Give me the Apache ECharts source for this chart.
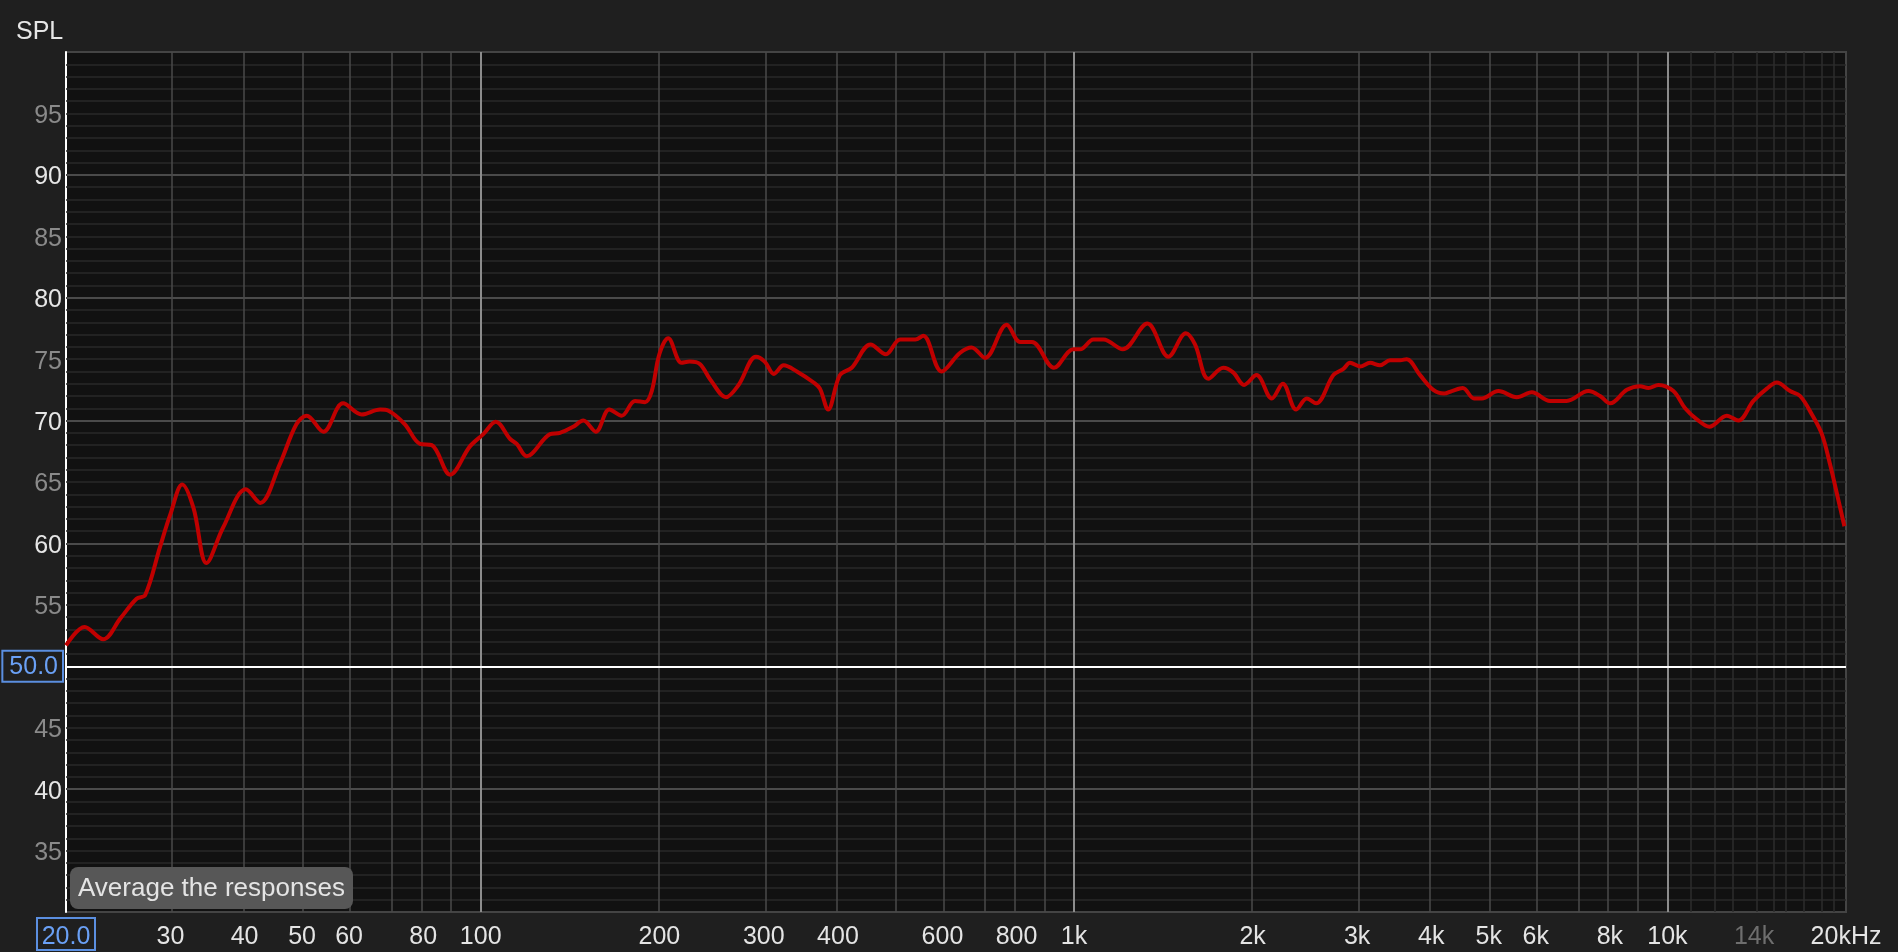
<!DOCTYPE html>
<html><head><meta charset="utf-8">
<script src="https://cdn.jsdelivr.net/npm/echarts@6/dist/echarts.min.js"></script>
<style>html,body{margin:0;padding:0;background:#1f1f1f;}#c{width:1898px;height:952px;}</style>
</head><body><div id="c"></div>
<script>
// Measured response (Hz, dB SPL)
const freqHz = [20,21.5,23.1,24.7,26.3,27.2,28.8,30,31.4,32.8,34.5,36.8,40.2,42.5,45.8,48.9,50.9,54.3,58.6,63.0,67.7,69.9,74.5,79.0,82.7,88.8,95.9,101.0,106.0,112.1,115.0,119.5,130.9,136.0,143.2,148.9,156.3,164.7,172.8,182.0,189.2,194.2,200,207,218,225,234,244,259,272,291,301,312,324,341,364,373,385,403,422,454,482,509,540,557,598,642,672,708,770,811,849,925,997,1024,1078,1121,1208,1329,1442,1543,1599,1684,1785,1856,1934,2030,2154,2248,2368,2468,2558,2736,2844,2918,3034,3154,3278,3408,3544,3636,3830,4032,4204,4332,4520,4722,4866,5190,5574,5908,6342,6766,7360,7702,8008,8544,8996,9290,9658,10236,10712,11210,11772,12590,13170,13962,14708,15290,16100,16738,17520,18212,18808,19424,19876];
const splDb = [51.7,53.2,52.2,53.9,55.5,55.8,59.7,62.4,64.8,62.9,58.4,61.3,64.4,63.3,66.4,69.7,70.4,69.1,71.4,70.5,70.9,70.8,69.7,68.1,68.0,65.6,67.9,68.9,69.9,68.5,68.1,67.1,68.9,69.0,69.5,70.0,69.1,70.9,70.4,71.6,71.5,72.4,75.4,76.7,74.7,74.8,74.6,73.3,71.9,72.9,75.2,74.8,73.8,74.5,74.0,73.1,72.6,70.9,73.7,74.3,76.2,75.4,76.6,76.6,76.9,74.0,75.5,75.95,75.1,77.8,76.4,76.4,74.3,75.8,75.8,76.6,76.6,75.8,77.9,75.2,77.1,76.2,73.4,74.3,73.9,72.9,73.7,71.8,73.0,70.9,71.8,71.4,73.7,74.2,74.7,74.4,74.7,74.5,74.9,74.9,75.0,73.7,72.5,72.2,72.4,72.65,71.8,71.8,72.4,71.9,72.3,71.6,71.6,72.4,72.0,71.4,72.5,72.8,72.65,72.9,72.4,71.0,70.1,69.5,70.4,70.0,71.6,72.6,73.1,72.4,72.0,70.5,68.9,66.4,63.5,61.4];

// Axis ticks
const xTickFreqs = [20,30,40,50,60,80,100,200,300,400,600,800,1000,2000,3000,4000,5000,6000,8000,10000,14000,20000];
const xTickLabels = ['20.0','30','40','50','60','80','100','200','300','400','600','800','1k','2k','3k','4k','5k','6k','8k','10k','14k','20kHz'];
const yMin = 30, yMax = 100;
const cursorDb = 50;
const cursorHz = 20;

// Grid lines
const gridFreqsMinor = [30,40,50,60,70,80,90,200,300,400,500,600,700,800,900,2000,3000,4000,5000,6000,7000,8000,9000];
const gridFreqsMajor = [100,1000,10000];
const gridFreqsFine = [11000,12000,13000,14000,15000,16000,17000,18000,19000];
const gridDbMajor = [40,60,70,80,90];
const gridDbMinor = [];
for (let v = yMin + 1; v < yMax; v++) { if (v % 10 !== 0) gridDbMinor.push(v); }

const FONT = "'Liberation Sans', Arial, sans-serif";
const lg = Math.log10;

function vLines(list, color, width) {
  return { type:'line', data:[], z:1, silent:true,
    markLine:{ silent:true, symbol:['none','none'], animation:false, label:{show:false},
      lineStyle:{color:color, width:width, type:'solid'}, emphasis:{disabled:true},
      data:list.map(f => ({xAxis: lg(f)})) } };
}
function hLines(list, color, width, z) {
  return { type:'line', data:[], z:z||1, silent:true,
    markLine:{ silent:true, symbol:['none','none'], animation:false, label:{show:false},
      lineStyle:{color:color, width:width, type:'solid'}, emphasis:{disabled:true},
      data:list.map(v => ({yAxis: v})) } };
}

const chart = echarts.init(document.getElementById('c'), null, {renderer:'canvas'});
chart.setOption({
  backgroundColor:'#1f1f1f',
  animation:false,
  textStyle:{fontFamily:FONT},
  grid:{left:66, right:52, top:52, bottom:40, show:true, backgroundColor:'#111111',
        borderColor:'#444444', borderWidth:2, containLabel:false, outerBoundsMode:'none'},
  xAxis:{
    type:'value', min:lg(20), max:lg(20000),
    axisLine:{show:false}, axisTick:{show:false}, splitLine:{show:false},
    axisLabel:{
      customValues: xTickFreqs.map(lg),
      showMinLabel:true, showMaxLabel:true,
      margin:6, fontSize:25, fontFamily:FONT, color:'#e4e4e4', lineHeight:28,
      formatter:function(v){
        let idx = 0, best = 1e9;
        xTickFreqs.forEach((f,i)=>{ const d = Math.abs(lg(f)-v); if (d < best) {best = d; idx = i;} });
        const t = xTickLabels[idx];
        if (idx === 0) return '{b|' + t + '}';
        if (t === '14k') return '{g|' + t + '}';
        return '{n|' + t + '}';
      },
      rich:{
        n:{color:'#e4e4e4', fontSize:25, fontFamily:FONT, lineHeight:28, padding:[10,0,0,0]},
        b:{color:'#6aa0f5', fontSize:25, fontFamily:FONT, lineHeight:28, padding:[10,0,0,0]},
        g:{color:'#6e6e6e', fontSize:25, fontFamily:FONT, lineHeight:28, padding:[10,0,0,0]}
      }
    }
  },
  yAxis:{
    type:'value', min:yMin, max:yMax, interval:5,
    axisLine:{show:true, lineStyle:{color:'#ffffff', width:2}},
    axisTick:{show:false}, splitLine:{show:false},
    axisLabel:{
      margin:4, fontSize:25, fontFamily:FONT, lineHeight:28,
      formatter:function(v){
        if (v === yMin || v === yMax) return '';
        if (v === cursorDb) return '{box|' + v.toFixed(1) + '}';
        if (v % 10 === 0) return '{w|' + v + '}';
        return '{g|' + v + '}';
      },
      rich:{
        w:{color:'#e6e6e6', fontSize:25, fontFamily:FONT, lineHeight:28, padding:[5,0,0,0]},
        g:{color:'#8a8a8a', fontSize:25, fontFamily:FONT, lineHeight:28, padding:[5,0,0,0]},
        box:{color:'#6aa0f5', fontSize:25, fontFamily:FONT, lineHeight:26, borderColor:'#5b8fe0', borderWidth:2, padding:[3,4,1,6], backgroundColor:'#1f1f1f'}
      }
    }
  },
  graphic:[
    {type:'text', left:16, top:20, style:{text:'SPL', fill:'#e6e6e6', font:'25px ' + FONT}},
    {type:'rect', shape:{x:70, y:867, width:283, height:42, r:8}, style:{fill:'#575757'}, z:100},
    {type:'text', x:78, y:889, style:{text:'Average the responses', fill:'#e4e4e4', font:'26px ' + FONT, align:'left', verticalAlign:'middle'}, z:101}
  ],
  series:[
    hLines(gridDbMinor, '#282828', 1.5),
    vLines(gridFreqsFine, '#2c2c2c', 1.5),
    hLines(gridDbMajor, '#4a4a4a', 2),
    vLines(gridFreqsMinor, '#4a4a4a', 1.5),
    vLines(gridFreqsMajor, '#8c8c8c', 2),
    hLines([cursorDb], '#ffffff', 2, 3),
    {
      type:'line', z:5, silent:true, showSymbol:false, smooth:0.35,
      data: freqHz.map((f,i)=>[lg(f), splDb[i]]),
      lineStyle:{color:'#c00000', width:4},
      emphasis:{disabled:true}
    }
  ]
});
// cursor frequency readout box, centred on the cursor frequency
const cx = chart.convertToPixel({xAxisIndex:0}, lg(cursorHz));
const by = chart.convertToPixel({yAxisIndex:0}, yMin);
chart.setOption({
  graphic:[
    {type:'text', left:16, top:20, style:{text:'SPL', fill:'#e6e6e6', font:'25px ' + FONT}},
    {type:'rect', shape:{x:70, y:867, width:283, height:42, r:8}, style:{fill:'#575757'}, z:100},
    {type:'text', x:78, y:889, style:{text:'Average the responses', fill:'#e4e4e4', font:'26px ' + FONT, align:'left', verticalAlign:'middle'}, z:101},
    {type:'rect', shape:{x:cx - 29, y:by + 6, width:58, height:32}, style:{fill:'none', stroke:'#5b8fe0', lineWidth:2}, z:50}
  ]
}, {replaceMerge:['graphic']});
</script></body></html>
